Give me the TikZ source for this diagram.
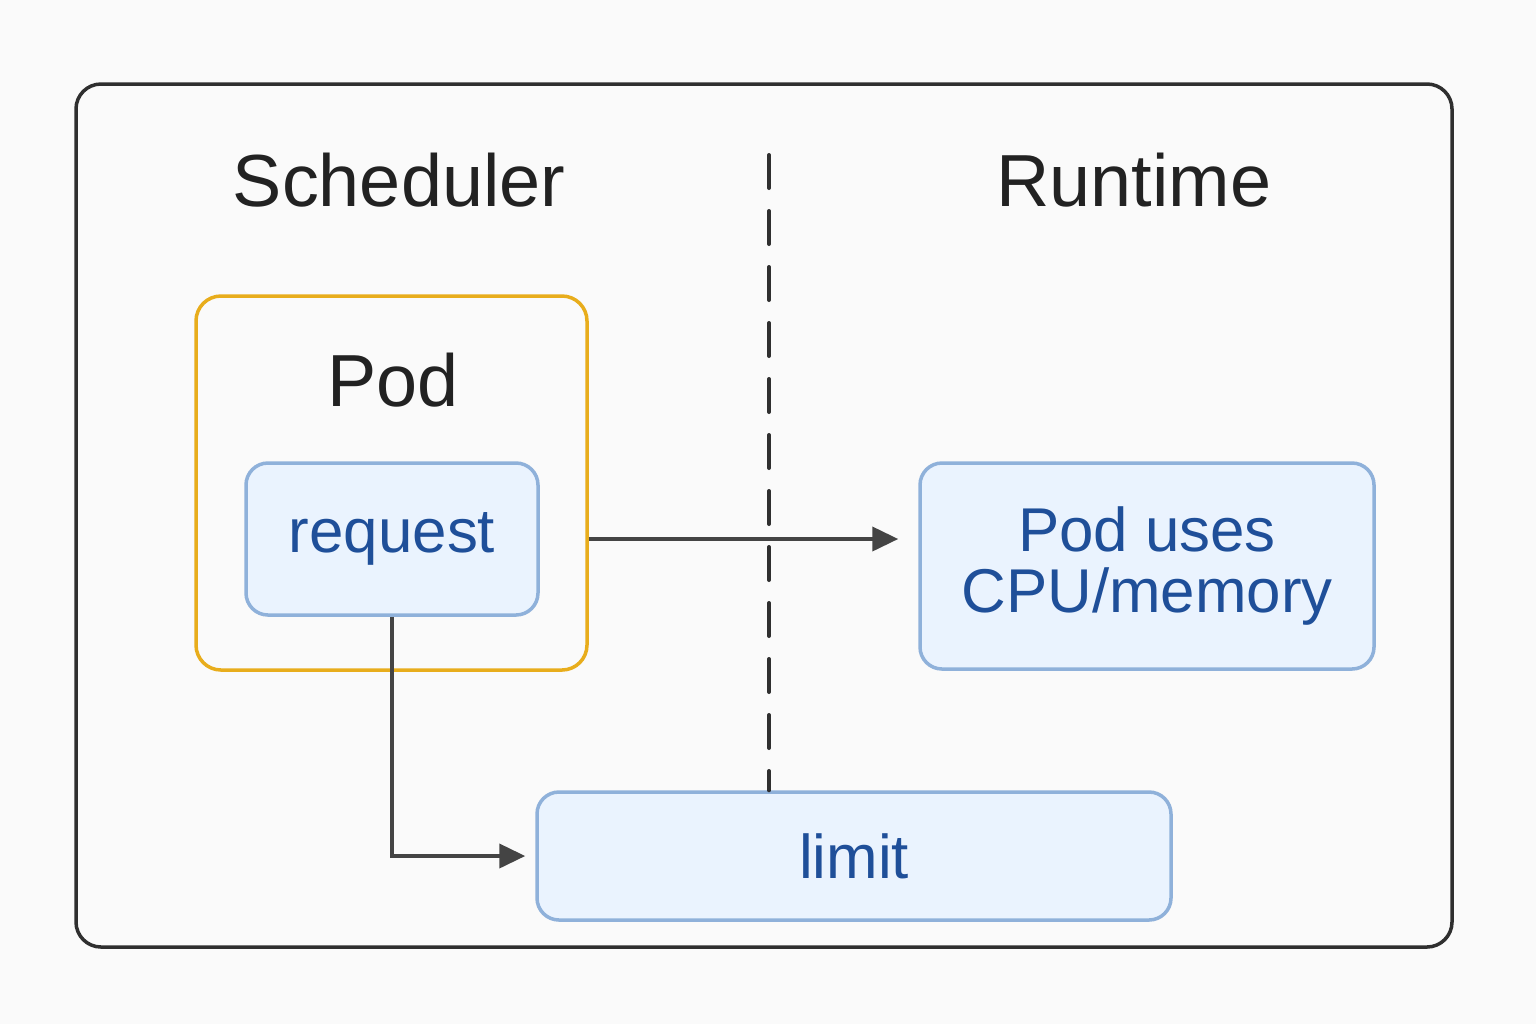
\documentclass[tikz,border=0pt]{standalone}
\usepackage{fontspec}
\setmainfont{Liberation Sans}
\usetikzlibrary{arrows.meta}

\definecolor{bgcol}{HTML}{FAFAFA}
\definecolor{framecol}{HTML}{2F2F2F}
\definecolor{headcol}{HTML}{222222}
\definecolor{podcol}{HTML}{E8AD1C}
\definecolor{boxfill}{HTML}{EAF3FE}
\definecolor{boxline}{HTML}{8FB1DA}
\definecolor{boxtext}{HTML}{1F4F99}
\definecolor{arrowcol}{HTML}{444444}

\tikzset{
	heading/.style={text=headcol, font=\fontsize{21}{25}\selectfont, inner sep=0pt},
	box/.style={draw=boxline, fill=boxfill, line width=0.035cm, rounded corners=0.22cm, text=boxtext, font=\fontsize{17.6}{17.2}\selectfont, align=center, inner sep=0pt},
	podbox/.style={draw=podcol, line width=0.035cm, rounded corners=0.25cm},
	flow/.style={draw=arrowcol, line width=0.04cm, -{Triangle[length=0.26cm,width=0.24cm]}},
	divider/.style={draw=framecol, line width=0.04cm, line cap=round, dash pattern=on 0.33cm off 0.23cm},
}

\begin{document}
\begin{tikzpicture}[y=-1cm]
	
	\useasboundingbox (0,0) rectangle (15.36,10.24);
	\fill[bgcol] (0,0) rectangle (15.36,10.24);
	\draw[framecol, line width=0.035cm, rounded corners=0.25cm] (0.76,0.84) rectangle (14.52,9.47);
	
	\node (sched) [heading] at (3.99,1.80) {Scheduler};
	\node (runtime) [heading] at (11.34,1.80) {Runtime};
	
	\node (pod) [podbox, minimum width=3.91cm, minimum height=3.74cm] at (3.915,4.83) {};
	\node (podlabel) [heading] at (3.93,3.80) {Pod};
	\node (request) [box, minimum width=2.92cm, minimum height=1.52cm] at (3.92,5.39) {request};
	
	\node (uses) [box, minimum width=4.54cm, minimum height=2.06cm] at (11.47,5.66) {Pod uses\\CPU/memory};
	\node (limit) [box, minimum width=6.34cm, minimum height=1.28cm] at (8.54,8.56) {limit};
	
	% scheduler | runtime
	\coordinate (divtop) at (7.69,1.55);
	\draw[divider] (divtop) -- (divtop |- limit.north);
	
	\draw[flow] (pod.east |- request.east) -- ([xshift=-0.2cm]uses.west |- request.east);
	\draw[flow] (request.south) |- ([xshift=-0.1cm]limit.west);
	
\end{tikzpicture}
\end{document}
